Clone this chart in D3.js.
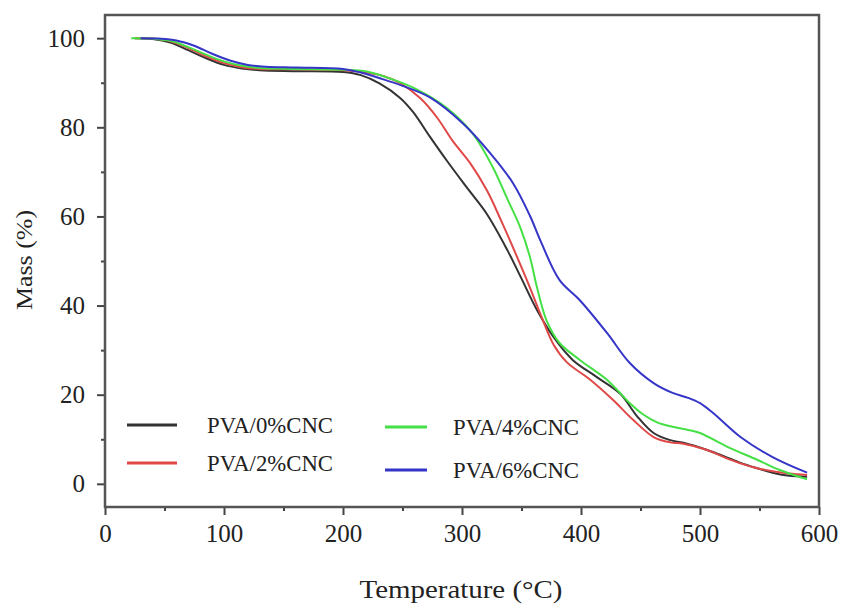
<!DOCTYPE html>
<html>
<head>
<meta charset="utf-8">
<script src="https://cdn.jsdelivr.net/npm/d3@7"></script>
<style>
  body { margin: 0; background: #fff; }
  text { font-family: "Liberation Serif", "DejaVu Serif", serif; fill: #222; }
</style>
</head>
<body>
<div id="chart"></div>
<script>
// TGA curves, temperature (°C) vs mass (%)
const pva0T = [25, 40, 55, 70, 85, 100, 115, 130, 160, 200, 215, 231, 248, 259, 273, 287, 304, 321, 338, 349, 363, 377, 393, 413, 433, 447, 461, 475, 486, 506, 520, 534, 548, 561, 575, 590];
const pva0M = [100, 99.8, 99, 97.3, 95.5, 94, 93.2, 92.8, 92.6, 92.4, 91.7, 89.8, 86.6, 83.4, 77.9, 72.6, 66.5, 60.5, 52.5, 46.6, 39, 32.9, 27.8, 24, 20.2, 15.2, 11.4, 9.8, 9.2, 7.6, 6.2, 4.7, 3.5, 2.5, 1.8, 1.6];

const pva2T = [25, 40, 55, 70, 85, 100, 115, 130, 160, 200, 220, 235, 248, 265, 279, 292, 307, 321, 333, 345, 357, 366, 377, 388, 408, 427, 444, 461, 475, 486, 506, 520, 534, 548, 561, 575, 590];
const pva2M = [100, 99.9, 99.3, 97.8, 95.9, 94.4, 93.5, 93.1, 93, 92.8, 92.3, 91.4, 89.9, 86.5, 82.2, 77, 71.9, 65.8, 59, 51.7, 44.1, 38, 31.2, 27.3, 23.3, 18.8, 14.3, 10.5, 9.3, 9, 7.6, 6, 4.6, 3.5, 2.8, 2.3, 2];

const pva4T = [22, 40, 55, 70, 85, 100, 115, 130, 160, 200, 220, 240, 259, 287, 309, 326, 338, 349, 357, 363, 371, 382, 399, 422, 441, 452, 464, 477, 490, 500, 523, 548, 567, 590];
const pva4M = [100, 99.9, 99.4, 98, 96.3, 94.8, 93.8, 93.3, 93.1, 92.9, 92.5, 90.9, 88.9, 84.4, 78.6, 71, 64, 57.5, 51, 44.1, 36.7, 31.6, 27.8, 23.3, 18.1, 15.6, 13.8, 12.8, 12.1, 11.4, 8.3, 5.4, 3.1, 1];

const pva6T = [30, 45, 60, 75, 90, 105, 120, 135, 160, 200, 215, 231, 250, 273, 301, 324, 343, 357, 366, 382, 399, 422, 441, 461, 477, 490, 500, 511, 534, 561, 590];
const pva6M = [100, 99.9, 99.5, 98.3, 96.5, 95, 94, 93.6, 93.4, 93.1, 92.3, 91, 89.3, 86.7, 80.8, 74.1, 67.4, 60.2, 54.5, 45.7, 41.2, 33.8, 27.1, 22.6, 20.4, 19.3, 18.1, 15.9, 10.5, 6, 2.5];

const seriesNames = ["PVA/0%CNC", "PVA/2%CNC", "PVA/4%CNC", "PVA/6%CNC"];
const seriesColors = ["#333333", "#e04848", "#45e045", "#3535c8"];
const xTicks = [0, 100, 200, 300, 400, 500, 600];
const yTicks = [0, 20, 40, 60, 80, 100];

const series = [
  {name: seriesNames[0], color: seriesColors[0], pts: pva0T.map((t, i) => [t, pva0M[i]])},
  {name: seriesNames[1], color: seriesColors[1], pts: pva2T.map((t, i) => [t, pva2M[i]])},
  {name: seriesNames[2], color: seriesColors[2], pts: pva4T.map((t, i) => [t, pva4M[i]])},
  {name: seriesNames[3], color: seriesColors[3], pts: pva6T.map((t, i) => [t, pva6M[i]])}
];

let width = 841;
let height = 605;
let margin = {left: 105, right: 22, top: 15, bottom: 98};
let w = width - margin.left - margin.right;
let h = height - margin.top - margin.bottom;

let svg = d3.select('#chart')
  .append("svg")
  .attr("width", width)
  .attr("height", height)
  .append("g")
  .attr("transform", "translate(" + margin.left + "," + margin.top + ")");

let x = d3.scaleLinear().domain([0, 600]).range([0, w]);
let y = d3.scaleLinear().domain([-5.2, 105.2]).range([h, 0]);

// minor ticks
svg.append("g")
  .attr("transform", "translate(0," + h + ")")
  .call(d3.axisBottom(x).tickValues([50, 150, 250, 350, 450, 550]).tickSize(4).tickFormat(""))
  .call(g => g.select(".domain").remove())
  .call(g => g.selectAll("line").attr("stroke", "#444").attr("stroke-width", 2));
svg.append("g")
  .call(d3.axisLeft(y).tickValues([10, 30, 50, 70, 90]).tickSize(4).tickFormat(""))
  .call(g => g.select(".domain").remove())
  .call(g => g.selectAll("line").attr("stroke", "#444").attr("stroke-width", 2));

// major ticks
svg.append("g")
  .attr("transform", "translate(0," + h + ")")
  .call(d3.axisBottom(x).tickValues(xTicks).tickSize(8).tickPadding(9))
  .call(g => g.select(".domain").remove())
  .call(g => g.selectAll("line").attr("stroke", "#444").attr("stroke-width", 2))
  .call(g => g.selectAll("text").attr("font-size", 25).attr("fill", "#222"));
svg.append("g")
  .call(d3.axisLeft(y).tickValues(yTicks).tickSize(8).tickPadding(12))
  .call(g => g.select(".domain").remove())
  .call(g => g.selectAll("line").attr("stroke", "#444").attr("stroke-width", 2))
  .call(g => g.selectAll("text").attr("font-size", 25).attr("fill", "#222"));

// frame
svg.append("rect")
  .attr("width", w)
  .attr("height", h)
  .attr("fill", "none")
  .attr("stroke", "#555")
  .attr("stroke-width", 2.5);

let line = d3.line()
  .x(d => x(d[0]))
  .y(d => y(d[1]))
  .curve(d3.curveCatmullRom.alpha(0.5));

svg.selectAll(".curve")
  .data(series)
  .enter().append("path")
  .attr("class", "curve")
  .attr("d", d => line(d.pts))
  .attr("fill", "none")
  .attr("stroke", d => d.color)
  .attr("stroke-width", 2);

// legend, two columns
let legendPos = [[22, 410], [22, 448], [280, 412], [280, 455]];
let legend = svg.selectAll(".legend")
  .data(series)
  .enter().append("g")
  .attr("class", "legend")
  .attr("transform", (d, i) => "translate(" + legendPos[i][0] + "," + legendPos[i][1] + ")");
legend.append("line")
  .attr("x1", 0)
  .attr("x2", (d, i) => i < 2 ? 50 : 42)
  .attr("stroke", d => d.color)
  .attr("stroke-width", 3);
legend.append("text")
  .attr("x", (d, i) => i < 2 ? 80 : 68)
  .attr("y", 8)
  .attr("font-size", 24)
  .attr("textLength", 126)
  .attr("lengthAdjust", "spacingAndGlyphs")
  .text(d => d.name);

// axis titles
svg.append("text")
  .attr("x", 461 - margin.left)
  .attr("y", h + 91)
  .attr("text-anchor", "middle")
  .attr("font-size", 25)
  .attr("textLength", 203)
  .attr("lengthAdjust", "spacingAndGlyphs")
  .text("Temperature (°C)");
svg.append("text")
  .attr("transform", "translate(" + (32 - margin.left) + "," + (260 - margin.top) + ") rotate(-90)")
  .attr("text-anchor", "middle")
  .attr("font-size", 24)
  .attr("textLength", 100)
  .attr("lengthAdjust", "spacingAndGlyphs")
  .text("Mass (%)");
</script>
</body>
</html>
